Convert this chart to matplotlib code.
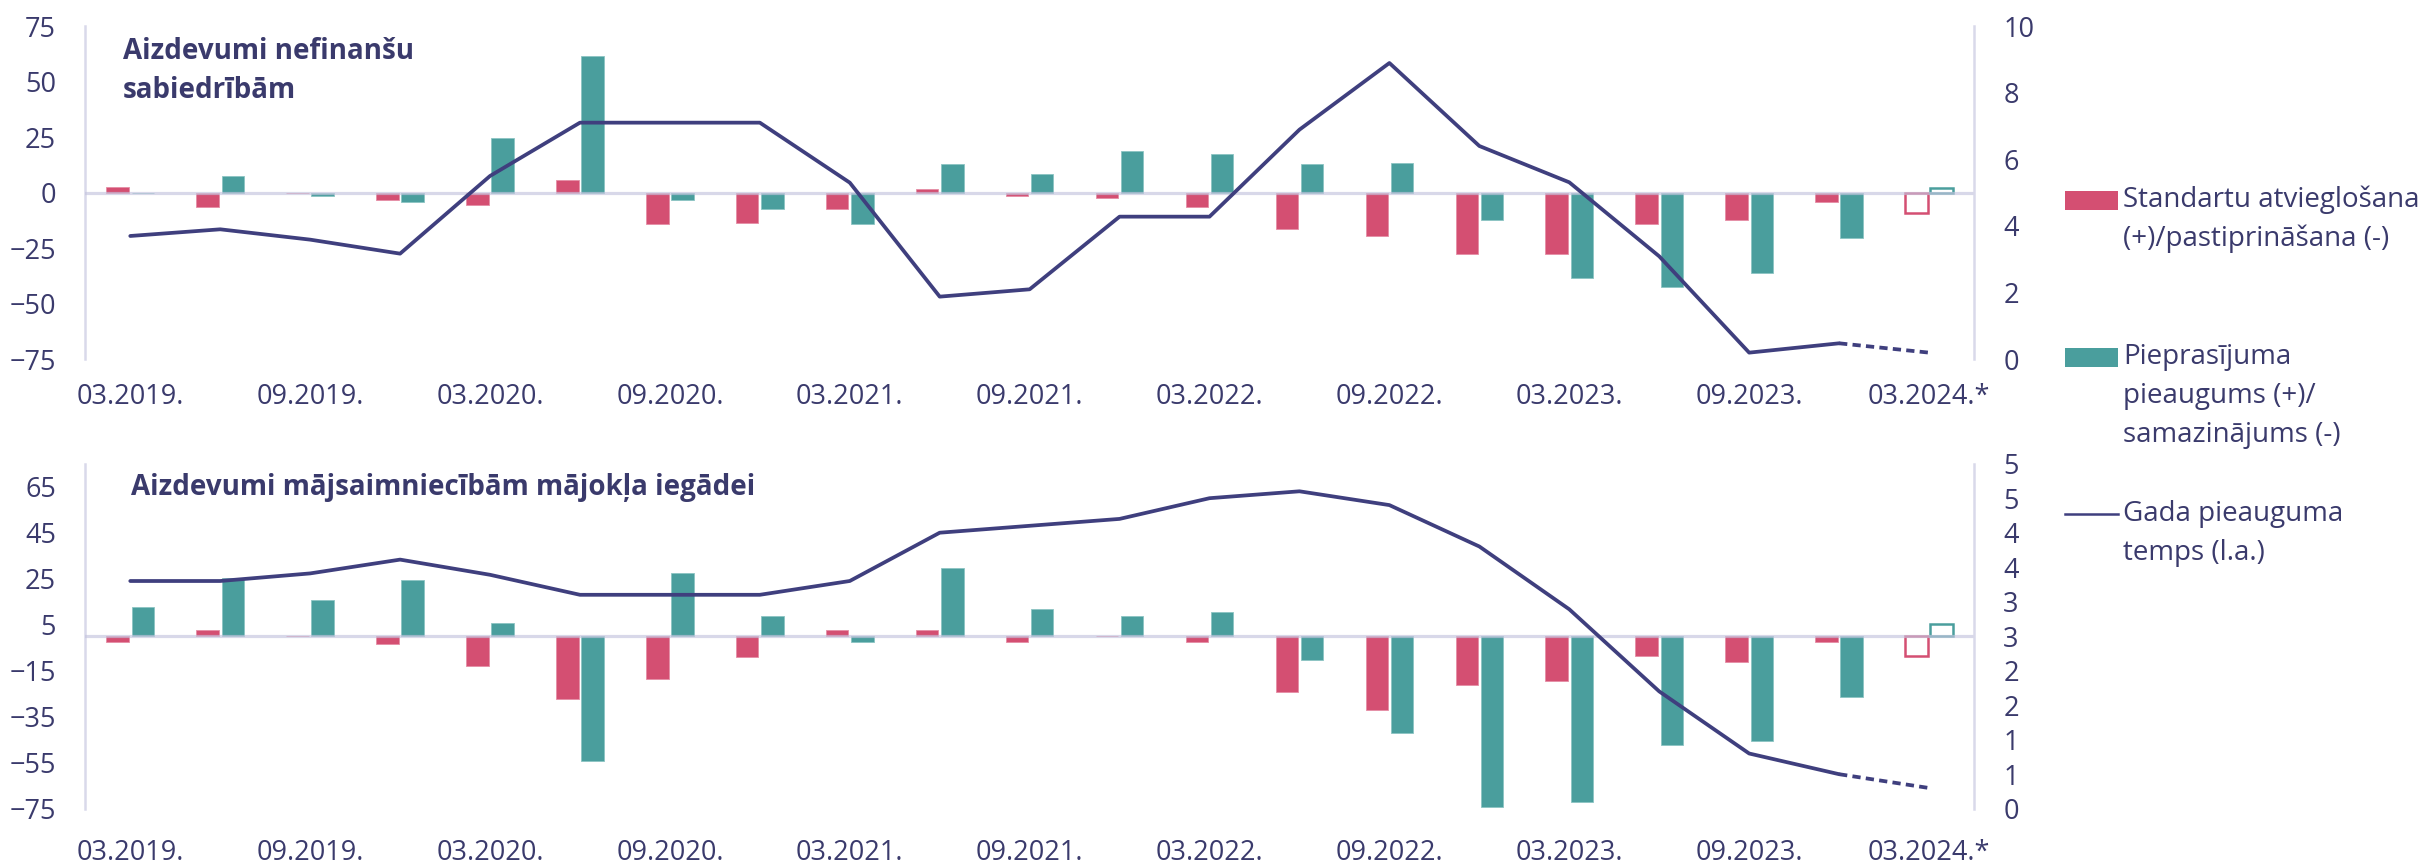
import matplotlib
matplotlib.use("Agg")
import matplotlib.pyplot as plt
from matplotlib.patches import Rectangle
from matplotlib.lines import Line2D
import numpy as np

plt.rcParams['font.family'] = ['Open Sans', 'DejaVu Sans']

# Quarterly periods
periods = ["03.2019.", "06.2019.", "09.2019.", "12.2019.",
           "03.2020.", "06.2020.", "09.2020.", "12.2020.",
           "03.2021.", "06.2021.", "09.2021.", "12.2021.",
           "03.2022.", "06.2022.", "09.2022.", "12.2022.",
           "03.2023.", "06.2023.", "09.2023.", "12.2023.",
           "03.2024.*"]

# Loans to non-financial corporations
corp_standards = [2.5, -6.3, 0, -3.4, -5.4, 5.8, -14.2, -13.5, -7.3, 1.6, -1.4,
                  -2.4, -6.3, -16.2, -19.4, -27.4, -27.4, -14.2, -12.3, -4.1, -9.0]
corp_demand = [0, 7.5, -1.4, -4.4, 24.8, 61.4, -3.4, -7.3, -14.2, 12.7, 8.5,
               18.6, 17.6, 12.7, 13.4, -12.3, -38.2, -42.4, -36.2, -20.2, 2.3]
corp_growth = [3.7, 3.9, 3.59, 3.17, 5.5, 7.1, 7.1, 7.1, 5.3, 1.88, 2.1,
               4.28, 4.28, 6.89, 8.89, 6.4, 5.31, 3.09, 0.2, 0.48, 0.2]

# Loans to households for house purchase
house_standards = [-2.4, 2.8, 0, -3.6, -13.1, -27.5, -18.4, -9.1, 2.8, 2.8, -2.4,
                   0, -2.4, -24.4, -32.2, -21.3, -19.4, -8.4, -11.2, -2.4, -8.4]
house_demand = [12.6, 25.5, 15.7, 24.6, 5.7, -54.4, 27.4, 8.6, -2.4, 29.6, 11.7,
                8.6, 10.7, -10.3, -42.3, -74.2, -72.3, -47.3, -45.4, -26.3, 5.2]
house_growth = [3.3, 3.3, 3.41, 3.61, 3.39, 3.1, 3.1, 3.1, 3.3, 4.0, 4.1,
                4.2, 4.5, 4.6, 4.4, 3.8, 2.89, 1.7, 0.8, 0.5, 0.3]

corp_left_ticks = [-75, -50, -25, 0, 25, 50, 75]
corp_right_ticks = [0, 2, 4, 6, 8, 10]
house_left_ticks = [-75, -55, -35, -15, 5, 25, 45, 65]
house_right_ticks = [0, 0.5, 1, 1.5, 2, 2.5, 3, 3.5, 4, 4.5, 5]
house_right_labels = ["0", "1", "1", "2", "2", "3", "3", "4", "4", "5", "5"]

legend_labels = [["Standartu atvieglošana", "(+)/pastiprināšana (-)"],
                 ["Pieprasījuma", "pieaugums (+)/", "samazinājums (-)"],
                 ["Gada pieauguma", "temps (l.a.)"]]

PINK = "#d44f72"
TEAL = "#4a9e9d"
NAVY = "#3f3f7e"
TEXT = "#3a3a6c"
GRID = "#d9d9ea"

W, H = 2427, 864
fig = plt.figure(figsize=(W / 100, H / 100), dpi=100)

left_px, right_px = 85.3, 1974
ax_top = fig.add_axes([left_px / W, 1 - 359.3 / H, (right_px - left_px) / W, 333.3 / H])
ax_bot = fig.add_axes([left_px / W, 1 - 808.7 / H, (right_px - left_px) / W, 345 / H])


def draw_panel(ax, standards, demand, growth, ylim, lticks, rlim, rticks,
               rlabels=None, xpad=20):
    n = len(periods)
    x = np.arange(n)
    off, bw = 0.14, 0.25
    ax.bar(x[:-1] - off, standards[:-1], width=bw, color=PINK,
           edgecolor="#e58ea5", linewidth=0.6, zorder=2)
    ax.bar(x[:-1] + off, demand[:-1], width=bw, color=TEAL,
           edgecolor="#8cc4c3", linewidth=0.6, zorder=2)
    ax.bar(x[-1] - off, standards[-1], width=bw, facecolor="white",
           edgecolor=PINK, linewidth=1.8, zorder=2)
    ax.bar(x[-1] + off, demand[-1], width=bw, facecolor="white",
           edgecolor=TEAL, linewidth=1.8, zorder=2)
    ax.axhline(0, color="#c4c4de", lw=2.3, alpha=0.65, zorder=3)

    ax.set_xlim(-0.5, n - 0.5)
    ax.set_ylim(*ylim)
    ax.set_yticks(lticks)
    ax.set_xticks(x[::2])
    ax.set_xticklabels(periods[::2])
    for s in ("top", "bottom", "right"):
        ax.spines[s].set_visible(False)
    ax.spines["left"].set_color(GRID)
    ax.spines["left"].set_linewidth(1.8)
    ax.tick_params(axis="both", length=0, labelsize=19.5, labelcolor=TEXT)
    ax.tick_params(axis="y", pad=21)
    ax.tick_params(axis="x", pad=xpad)

    tw = ax.twinx()
    tw.plot(x[:-1], growth[:-1], color=NAVY, lw=2.7, solid_capstyle="round", zorder=4)
    tw.plot(x[-2:], growth[-2:], color=NAVY, lw=2.7, linestyle=(0, (2.2, 1.4)), zorder=4)
    tw.set_ylim(*rlim)
    tw.set_yticks(rticks)
    if rlabels is not None:
        tw.set_yticklabels(rlabels)
    for s in ("top", "bottom", "left"):
        tw.spines[s].set_visible(False)
    tw.spines["right"].set_color(GRID)
    tw.spines["right"].set_linewidth(1.8)
    tw.tick_params(axis="y", length=0, labelsize=19.5, labelcolor=TEXT, pad=21)
    return tw


draw_panel(ax_top, corp_standards, corp_demand, corp_growth, (-75, 75),
           corp_left_ticks, (0, 10), corp_right_ticks, xpad=17)
draw_panel(ax_bot, house_standards, house_demand, house_growth, (-75, 75),
           house_left_ticks, (0, 5), house_right_ticks, house_right_labels, xpad=21.5)

# Panel titles
fig.text(123 / W, 1 - 51.5 / H, "Aizdevumi nefinanšu", fontsize=20, fontweight="bold",
         color=TEXT, va="center", ha="left")
fig.text(123 / W, 1 - 90.5 / H, "sabiedrībām", fontsize=20, fontweight="bold",
         color=TEXT, va="center", ha="left")
fig.text(131 / W, 1 - 487 / H, "Aizdevumi mājsaimniecībām mājokļa iegādei", fontsize=20,
         fontweight="bold", color=TEXT, va="center", ha="left")

# Legend
key_x0, key_x1, text_x = 2065, 2118, 2123
line_gap = 39
fig.add_artist(Rectangle((key_x0 / W, 1 - 210 / H), (key_x1 - key_x0) / W, 19 / H,
                         transform=fig.transFigure, facecolor=PINK, edgecolor="none"))
fig.add_artist(Rectangle((key_x0 / W, 1 - 367 / H), (key_x1 - key_x0) / W, 19 / H,
                         transform=fig.transFigure, facecolor=TEAL, edgecolor="none"))
fig.add_artist(Line2D([key_x0 / W, key_x1 / W], [1 - 514 / H, 1 - 514 / H],
                      transform=fig.transFigure, color=NAVY, lw=1.8))
for first_y, lines in zip([200, 357, 514], legend_labels):
    for i, line in enumerate(lines):
        fig.text(text_x / W, 1 - (first_y + i * line_gap) / H, line, fontsize=20,
                 color=TEXT, va="center", ha="left")

fig.savefig("out.png", dpi=100, facecolor="white")
